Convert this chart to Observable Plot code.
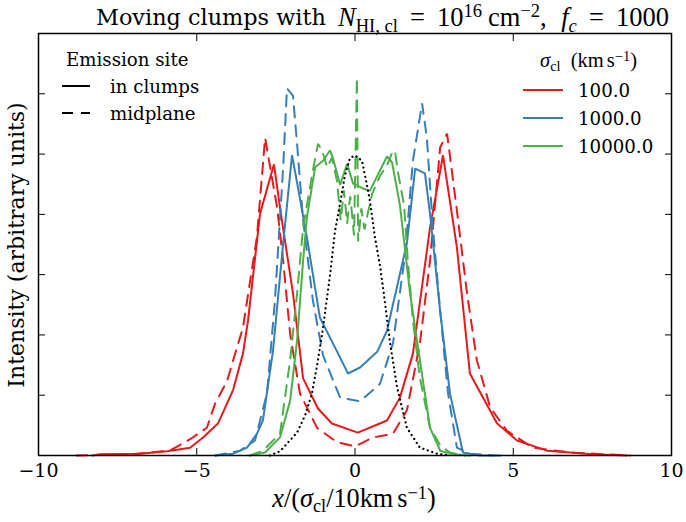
<!DOCTYPE html>
<html><head><meta charset="utf-8">
<script src="https://cdn.jsdelivr.net/npm/d3@7"></script>
<script src="https://cdn.jsdelivr.net/npm/@observablehq/plot@0.6"></script>
<style>
body{margin:0;background:#fff} svg{display:block}
.ser{font-family:"DejaVu Serif", serif;}
.math{font-family:"Liberation Serif", serif;}
</style>
</head><body><div id="chart"></div>
<script>
// ---- data ----
const xTicks = [-10, -5, 0, 5, 10];
const yTicks = [1, 2, 3, 4, 5, 6];
const sigmaLabels = ["100.0", "1000.0", "10000.0"];
const sigmaColors = ["#e41a1c", "#377eb8", "#4daf4a"];
const siteLabels = ["in clumps", "midplane"];

const red_clumps = [[-8.3,0],[-8.06,0.02],[-6.79,0.03],[-5.94,0.07],[-5.21,0.13],[-4.80,0.30],[-4.33,0.53],[-3.85,1.09],[-3.54,1.69],[-3.38,2.24],[-3.00,4.01],[-2.56,4.83],[-2.37,4.11],[-1.96,2.69],[-1.64,1.28],[-1.17,0.78],[-0.73,0.53],[0.09,0.38],[1.01,0.58],[1.42,0.96],[1.83,1.69],[2.37,3.78],[2.78,4.98],[3.22,3.45],[3.63,1.36],[4.49,0.53],[5.12,0.25],[6.07,0.08],[7.5,0.02],[8.6,0]];
const red_midplane = [[-8.8,0],[-7.1,0.02],[-5.85,0.08],[-5.21,0.27],[-4.68,0.46],[-4.42,0.86],[-4.04,1.24],[-3.73,1.79],[-3.54,2.12],[-3.10,3.62],[-2.84,5.27],[-2.46,4.11],[-2.27,3.23],[-2.05,2.02],[-1.74,1.03],[-1.20,0.46],[-0.57,0.22],[0,0.15],[0.57,0.30],[1.20,0.36],[1.64,0.75],[2.05,1.86],[2.37,3.23],[2.69,5.11],[2.91,5.34],[3.22,4.06],[3.54,2.69],[3.85,1.58],[4.27,0.80],[4.80,0.41],[5.62,0.13],[6.8,0.05],[8.7,0]];
const blue_clumps = [[-4.42,0],[-3.85,0.03],[-3.41,0.13],[-3.10,0.36],[-2.91,0.58],[-2.59,1.74],[-2.27,3.52],[-1.99,4.98],[-1.80,4.44],[-1.52,3.62],[-1.11,2.29],[-0.63,1.79],[-0.22,1.36],[0.16,1.46],[0.70,1.72],[1.01,2.07],[1.64,3.52],[1.90,4.76],[2.21,4.68],[2.37,4.01],[2.69,2.40],[3.00,1.03],[3.41,0.05],[3.95,0],[4.6,0]];
const blue_midplane = [[-4.42,0],[-3.63,0.08],[-3.16,0.25],[-2.78,1.03],[-2.53,2.57],[-2.27,4.78],[-2.15,6.09],[-1.96,5.97],[-1.83,5.17],[-1.64,3.90],[-1.33,2.57],[-1.01,1.66],[-0.47,0.96],[0.16,0.90],[0.79,1.19],[1.20,1.86],[1.58,3.32],[1.83,4.89],[2.12,5.84],[2.27,5.27],[2.46,3.78],[2.69,2.40],[2.94,1.03],[3.22,0.13],[3.63,0.03],[4.4,0]];
const green_clumps = [[-3.32,0],[-2.84,0.05],[-2.37,0.30],[-2.05,0.91],[-1.83,1.91],[-1.64,3.23],[-1.52,3.95],[-1.26,4.78],[-1.01,4.89],[-0.79,5.06],[-0.70,4.94],[-0.47,4.49],[-0.25,4.84],[-0.06,4.51],[0.25,4.43],[0.47,4.39],[0.79,4.73],[1.01,4.96],[1.17,4.86],[1.26,4.61],[1.42,4.15],[1.74,2.69],[2.05,1.58],[2.37,0.46],[2.69,0.08],[3.10,0.02],[3.63,0]];
const green_midplane = [[-3.32,0],[-2.91,0.08],[-2.37,0.36],[-2.05,1.58],[-1.83,2.69],[-1.64,3.78],[-1.33,4.73],[-1.17,5.17],[-1.04,5.06],[-0.88,4.78],[-0.73,4.94],[-0.57,4.56],[-0.45,3.90],[-0.35,4.40],[-0.25,3.85],[-0.15,4.30],[-0.03,3.65],[0.06,6.27],[0.10,3.55],[0.20,4.10],[0.30,3.75],[0.41,4.03],[0.54,4.34],[0.79,4.64],[1.01,4.81],[1.17,5.02],[1.26,5.06],[1.36,4.69],[1.55,4.15],[1.67,3.23],[1.83,2.24],[2.05,1.29],[2.37,0.46],[2.69,0.17],[3.0,0.05],[3.48,0]];
const black_dotted = [[-2.69,0],[-2.37,0.07],[-1.83,0.38],[-1.58,0.66],[-1.36,1.03],[-1.17,1.58],[-1.01,2.12],[-0.79,2.99],[-0.63,3.73],[-0.47,4.18],[-0.32,4.64],[-0.16,4.93],[0,4.98],[0.22,4.89],[0.35,4.56],[0.47,4.23],[0.63,3.62],[0.79,3.15],[0.92,2.65],[1.11,1.86],[1.33,1.13],[1.64,0.46],[2.05,0.13],[2.59,0.03],[3.0,0]];

const DASH = "11,8";
const series = [
  {d: red_clumps, c: sigmaColors[0], dash: null},
  {d: red_midplane, c: sigmaColors[0], dash: DASH},
  {d: blue_clumps, c: sigmaColors[1], dash: null},
  {d: blue_midplane, c: sigmaColors[1], dash: DASH},
  {d: green_clumps, c: sigmaColors[2], dash: null},
  {d: green_midplane, c: sigmaColors[2], dash: DASH}
];

const chart = Plot.plot({
  width: 686, height: 522,
  marginLeft: 38, marginRight: 15, marginTop: 33, marginBottom: 67,
  style: {fontFamily: "'DejaVu Serif', serif", fontSize: "19px", color: "black", background: "white"},
  x: {domain: [-10, 10]},
  y: {domain: [0, 7]},
  marks: [
    ...series.map(s => Plot.line(s.d, {x: d => d[0], y: d => d[1], stroke: s.c, strokeWidth: 2, strokeDasharray: s.dash ?? undefined, strokeLinejoin: "miter"})),
    Plot.line(black_dotted, {x: d => d[0], y: d => d[1], stroke: "black", strokeWidth: 2.2, strokeDasharray: "0.1,4.6", strokeLinecap: "round"}),
    Plot.axisX({ticks: xTicks, tickSize: -7, tickPadding: 15, label: null, fontSize: 19}),
    Plot.axisX({anchor: "top", ticks: xTicks, tickSize: -7, fill: "none", label: null}),
    Plot.axisY({ticks: yTicks, tickSize: -7, fill: "none", label: null}),
    Plot.axisY({anchor: "right", ticks: yTicks, tickSize: -7, fill: "none", label: null}),
    Plot.frame({stroke: "black", strokeWidth: 1.5})
  ]
});
document.getElementById("chart").appendChild(chart);

const svg = d3.select(chart);
const g = svg.append("g").attr("fill", "black").attr("text-anchor", "start");

// scale a text element's font so that its rendered box width equals w
function fit(sel, base, w) {
  sel.style("font-size", base + "px");
  const bw = sel.node().getBBox().width;
  if (bw > 0) sel.style("font-size", Math.min(base * 1.25, base * w / bw) + "px");
}
// write math-like text; k scales the extra spacing (dx) between pieces
function math(sel, parts, k = 1) {
  sel.selectAll("tspan").remove();
  parts.forEach(p => {
    const ts = sel.append("tspan").text(p.t);
    if (p.i) ts.style("font-style", "italic");
    if (p.s) ts.style("font-size", "0.7em");
    if (p.dy) ts.attr("dy", p.dy + "em");
    if (p.dx) ts.attr("dx", (p.dx * k) + "em");
  });
}
// keep the font size, stretch the spacing so that the width equals w
function fitSpacing(sel, parts, w) {
  math(sel, parts, 0); const w0 = sel.node().getBBox().width;
  math(sel, parts, 1); const w1 = sel.node().getBBox().width;
  const k = w1 > w0 ? Math.max(0.6, Math.min(2, (w - w0) / (w1 - w0))) : 1;
  math(sel, parts, k);
}

// title
const tA = g.append("text").attr("class", "ser").attr("x", 96).attr("y", 25).text("Moving clumps with");
fit(tA, 22, 230);
const titleMath = [
  {t: "N", i: 1},
  {t: "HI, cl", s: 1, dy: 0.3},
  {t: "=", dy: -0.3 * 0.7, dx: 0.25},
  {t: "10", dx: 0.25},
  {t: "16", s: 1, dy: -0.5},
  {t: "cm", dy: 0.5 * 0.7, dx: 0.12},
  {t: "−2", s: 1, dy: -0.5},
  {t: ",", dy: 0.5 * 0.7},
  {t: "f", i: 1, dx: 0.3},
  {t: "c", i: 1, s: 1, dy: 0.3},
  {t: "=", dy: -0.3 * 0.7, dx: 0.25},
  {t: "1000", dx: 0.25}
];
const tB = g.append("text").attr("class", "math").attr("x", 338).attr("y", 26).style("font-size", "26.5px");
fitSpacing(tB, titleMath, 332);

// x label
const xl = g.append("text").attr("class", "math").attr("x", 354).attr("y", 507).attr("text-anchor", "middle");
math(xl, [
  {t: "x", i: 1},
  {t: "/("},
  {t: "σ", i: 1},
  {t: "cl", s: 1, dy: 0.25},
  {t: "/10km", dy: -0.25 * 0.7},
  {t: "s", dx: 0.15},
  {t: "−1", s: 1, dy: -0.45},
  {t: ")", dy: 0.45 * 0.7}
]);
fit(xl, 21, 168);

// y label
g.append("text").attr("class", "ser").attr("transform", "translate(24,245) rotate(-90)").attr("text-anchor", "middle")
  .style("font-size", "22px").text("Intensity (arbitrary units)");

// left legend
const lfs = "18.2px";
g.append("text").attr("class", "ser").attr("x", 66).attr("y", 66).style("font-size", lfs).text("Emission site");
const siteDash = [null, DASH];
siteLabels.forEach((lab, i) => {
  const y = 86 + i * 27;
  g.append("line").attr("x1", 62).attr("x2", 90).attr("y1", y).attr("y2", y)
    .attr("stroke", "black").attr("stroke-width", 2).attr("stroke-dasharray", siteDash[i]);
  g.append("text").attr("class", "ser").attr("x", 110).attr("y", y + 6.5).style("font-size", lfs).text(lab);
});

// right legend
const rt = g.append("text").attr("class", "math").attr("x", 540).attr("y", 67);
math(rt, [
  {t: "σ", i: 1},
  {t: "cl", s: 1, dy: 0.25},
  {t: "(km", dy: -0.25 * 0.7, dx: 0.5},
  {t: "s", dx: 0.15},
  {t: "−1", s: 1, dy: -0.45},
  {t: ")", dy: 0.45 * 0.7}
]);
fit(rt, 18, 97);
sigmaLabels.forEach((lab, i) => {
  const y = 90 + i * 28;
  g.append("line").attr("x1", 523).attr("x2", 563).attr("y1", y).attr("y2", y)
    .attr("stroke", sigmaColors[i]).attr("stroke-width", 2);
  g.append("text").attr("class", "ser").attr("x", 578).attr("y", y + 7).style("font-size", "18.2px").text(lab);
});
</script>
</body></html>
